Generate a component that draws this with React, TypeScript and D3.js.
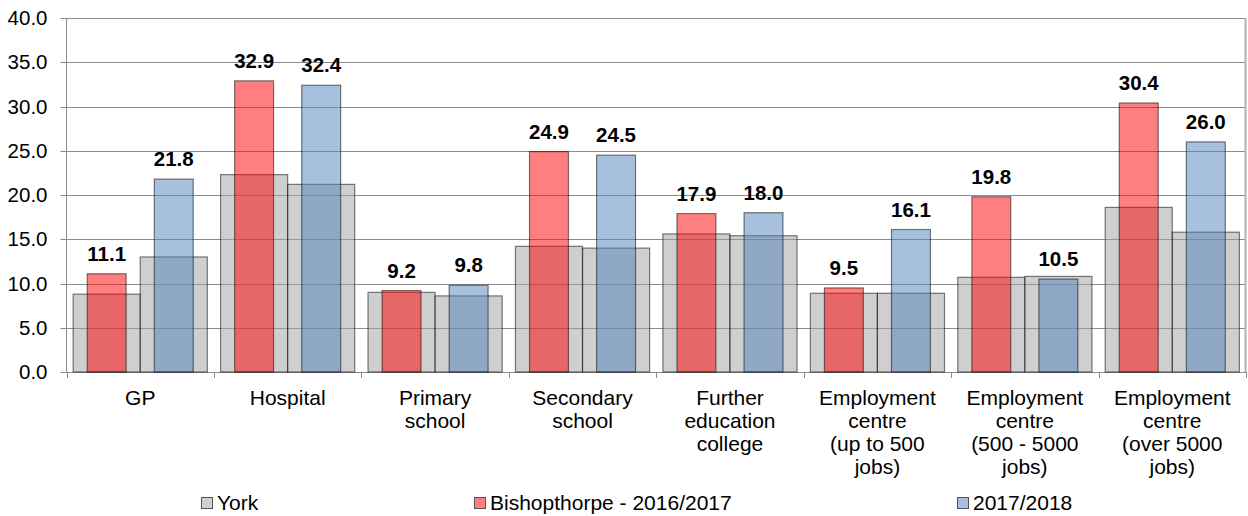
import React from "react";
import * as d3 from "d3";

const categories: string[][] = [
  ["GP"],
  ["Hospital"],
  ["Primary", "school"],
  ["Secondary", "school"],
  ["Further", "education", "college"],
  ["Employment", "centre", "(up to 500", "jobs)"],
  ["Employment", "centre", "(500 - 5000", "jobs)"],
  ["Employment", "centre", "(over 5000", "jobs)"],
];
const york1617 = [8.8, 22.3, 9.0, 14.2, 15.6, 8.9, 10.7, 18.6];
const york1718 = [13.0, 21.2, 8.6, 14.0, 15.4, 8.9, 10.8, 15.8];
const bishop1617 = [11.1, 32.9, 9.2, 24.9, 17.9, 9.5, 19.8, 30.4];
const bishop1718 = [21.8, 32.4, 9.8, 24.5, 18.0, 16.1, 10.5, 26.0];
const yTicks = [0, 5, 10, 15, 20, 25, 30, 35, 40];
const legendLabels = ["York", "Bishopthorpe - 2016/2017", "2017/2018"];

const W = 1248;
const H = 516;
const FONT = "'Liberation Sans', Arial, sans-serif";

export default function App() {
  const left = 66.5;
  const right = 1246;
  const top = 18;
  const bottom = 372;

  const x = d3
    .scaleBand<number>()
    .domain(d3.range(categories.length))
    .range([left, right])
    .paddingInner(0)
    .paddingOuter(0);
  const y = d3.scaleLinear().domain([0, 40]).range([bottom, top]);

  const bw = x.bandwidth();
  const inner = d3
    .scaleBand<number>()
    .domain([0, 1])
    .range([bw * 0.045, bw * 0.955])
    .paddingInner(0)
    .paddingOuter(0);
  const yw = inner.bandwidth();
  const cw = yw * 0.58;

  const yorkFill = "rgba(160,160,160,0.5)";
  const redFill = "rgba(255,0,0,0.5)";
  const blueFill = "rgba(79,129,189,0.5)";
  const strokeC = "rgba(0,0,0,0.5)";
  const gridC = "#8c8c8c";

  const groups = [
    { york: york1617, val: bishop1617, fill: redFill },
    { york: york1718, val: bishop1718, fill: blueFill },
  ];

  const legendX = [201, 474, 957];
  const legendFills = ["#d0d0d0", "#ff8080", "#a7bfde"];

  return (
    <svg
      width={W}
      height={H}
      style={{ position: "absolute", left: 0, top: 0, background: "#fff" }}
    >
      {/* gridlines */}
      {yTicks.map((t) => (
        <line
          key={"g" + t}
          x1={left}
          x2={right}
          y1={Math.round(y(t)) + 0.5}
          y2={Math.round(y(t)) + 0.5}
          stroke={gridC}
          strokeWidth={1}
        />
      ))}
      {/* right border */}
      <line x1={right - 0.5} x2={right - 0.5} y1={top} y2={bottom} stroke="#b0b0b0" strokeWidth={2} />
      {/* y axis */}
      <line x1={left} x2={left} y1={top} y2={bottom + 0.5} stroke={gridC} strokeWidth={1} />
      {yTicks.map((t) => (
        <g key={"yt" + t}>
          <line
            x1={left - 6}
            x2={left}
            y1={Math.round(y(t)) + 0.5}
            y2={Math.round(y(t)) + 0.5}
            stroke={gridC}
          />
          <text
            x={47.5}
            y={y(t)}
            dy="0.35em"
            textAnchor="end"
            fontFamily={FONT}
            fontSize={20.5}
            fill="#000"
          >
            {t.toFixed(1)}
          </text>
        </g>
      ))}
      {/* x ticks */}
      {d3.range(categories.length + 1).map((i) => {
        const xx = Math.round(left + i * bw) + 0.5;
        return (
          <line key={"xt" + i} x1={xx} x2={xx} y1={bottom} y2={bottom + 6} stroke={gridC} />
        );
      })}
      {/* bars */}
      {categories.map((_, i) => {
        const x0 = x(i)!;
        return (
          <g key={"c" + i}>
            {groups.map((g, j) => {
              const bx = x0 + inner(j)!;
              return (
                <rect
                  key={"y" + j}
                  x={bx}
                  y={y(g.york[i])}
                  width={yw}
                  height={y(0) - y(g.york[i])}
                  fill={yorkFill}
                  stroke={strokeC}
                  strokeWidth={1.2}
                />
              );
            })}
            {groups.map((g, j) => {
              const cx = x0 + inner(j)! + yw / 2;
              return (
                <g key={"b" + j}>
                  <rect
                    x={cx - cw / 2}
                    y={y(g.val[i])}
                    width={cw}
                    height={y(0) - y(g.val[i])}
                    fill={g.fill}
                    stroke={strokeC}
                    strokeWidth={1.2}
                  />
                  <text
                    x={cx}
                    y={y(g.val[i]) - 13}
                    textAnchor="middle"
                    fontFamily={FONT}
                    fontWeight="bold"
                    fontSize={20.5}
                    fill="#000"
                  >
                    {g.val[i].toFixed(1)}
                  </text>
                </g>
              );
            })}
          </g>
        );
      })}
      {/* category labels */}
      {categories.map((lines, i) => (
        <text
          key={"cl" + i}
          x={x(i)! + bw / 2}
          y={398}
          textAnchor="middle"
          fontFamily={FONT}
          fontSize={21}
          fill="#000"
        >
          {lines.map((l, k) => (
            <tspan key={k} x={x(i)! + bw / 2} y={398 + k * 23} dy="0.35em">
              {l}
            </tspan>
          ))}
        </text>
      ))}
      {/* legend */}
      {legendLabels.map((l, i) => (
        <g key={"lg" + i}>
          <rect
            x={legendX[i] + 0.5}
            y={497.5}
            width={11}
            height={11}
            fill={legendFills[i]}
            stroke="#555"
            strokeWidth={1}
          />
          <text
            x={legendX[i] + 16}
            y={503}
            dy="0.35em"
            fontFamily={FONT}
            fontSize={21}
            fill="#000"
          >
            {l}
          </text>
        </g>
      ))}
    </svg>
  );
}
